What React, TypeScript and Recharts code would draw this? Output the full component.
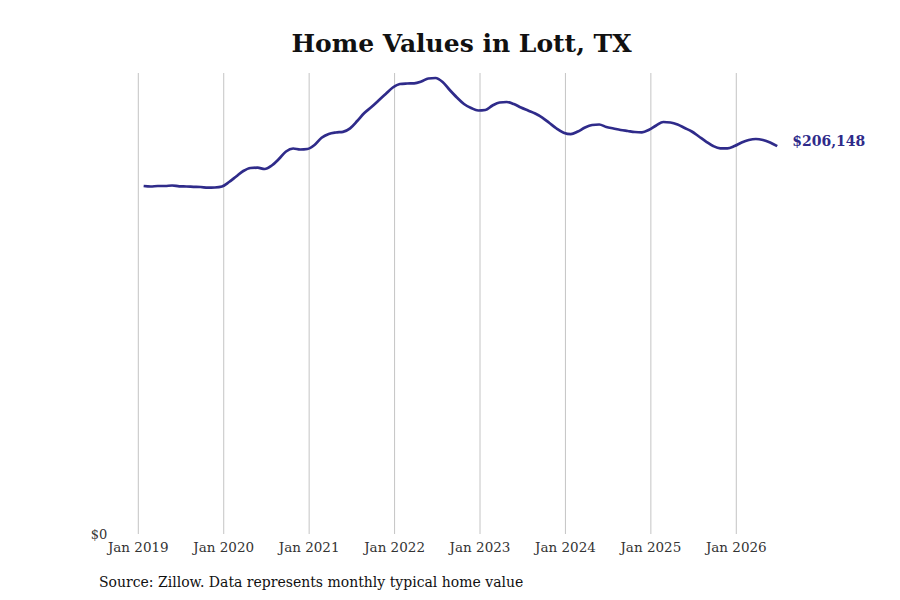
import React from "react";
import { LineChart, Line, XAxis, YAxis, CartesianGrid } from "recharts";

const years = [2019, 2020, 2021, 2022, 2023, 2024, 2025, 2026];
const tickLabels = years.map((y) => `Jan ${y}`);

const values2019 = [184945, 184679, 184945, 184945, 185210, 184785, 184679, 184520, 184413, 184041, 184147, 184679];
const values2020 = [187070, 189993, 192916, 194511, 194670, 193979, 195839, 199294, 203280, 204874, 204343, 204608];
const values2021 = [206734, 210560, 212580, 213377, 213749, 215609, 219489, 223740, 226929, 230384, 233838, 237293];
const values2022 = [239153, 239418, 239525, 240482, 242076, 242341, 240215, 235964, 231978, 228524, 226398, 225069];
const values2023 = [225335, 227728, 229323, 229587, 228524, 226664, 225069, 223475, 221349, 218426, 215503, 213271];
const values2024 = [212474, 213909, 216035, 217363, 217629, 216300, 215503, 214706, 214174, 213643, 213484, 214812];
const values2025 = [217097, 218957, 218692, 217629, 215769, 213909, 211251, 208594, 206203, 204980, 204980, 206203];
const values2026 = [208063, 209391, 209923, 209391, 208063, 206148];

const allValues = [
  ...values2019, ...values2020, ...values2021, ...values2022,
  ...values2023, ...values2024, ...values2025, ...values2026,
];

const data = allValues.map((v, i) => ({ t: i + 0.75, value: v }));
const xTicks = years.map((_, i) => i * 12);

const LINE_COLOR = "#2f2b8a";
const FONT = "'DejaVu Serif', serif";

const fmt = (v: number) => "$" + v.toLocaleString("en-US");

const EndLabel = (props: any) => {
  const { x, y, index } = props;
  if (index !== data.length - 1) return null;
  return (
    <text x={x + 15} y={y} fill={LINE_COLOR} fontFamily={FONT} fontWeight="bold" fontSize={14}>
      {fmt(allValues[allValues.length - 1])}
    </text>
  );
};

const gridX = (props: any) => {
  const xa = props && props.xAxis;
  if (xa && typeof xa.scale === "function") {
    return xTicks.map((t) => xa.scale(t));
  }
  const off = props.offset;
  return xTicks.map((t) => off.left + (t / 90) * off.width);
};

export default function App() {
  return (
    <div style={{ position: "absolute", left: 0, top: 0, width: 900, height: 600, background: "#fff" }}>
      <div
        style={{
          position: "absolute",
          left: 0,
          width: 923,
          top: 27,
          textAlign: "center",
          fontFamily: FONT,
          fontWeight: "bold",
          fontSize: 25,
          color: "#111",
          lineHeight: "34px",
        }}
      >
        Home Values in Lott, TX
      </div>
      <LineChart
        width={900}
        height={600}
        data={data}
        margin={{ top: 73, right: 121, bottom: 36, left: 78.3 }}
      >
        <CartesianGrid
          vertical={true}
          horizontal={false}
          stroke="#c4c4c4"
          strokeWidth={1}
          verticalCoordinatesGenerator={gridX}
        />
        <XAxis
          dataKey="t"
          type="number"
          domain={[0, 90]}
          ticks={xTicks}
          tickFormatter={(v: number) => tickLabels[Math.round(v / 12)]}
          axisLine={false}
          tickLine={false}
          tickSize={6}
          tickMargin={2}
          height={30}
          tick={{ fill: "#333", fontFamily: FONT, fontSize: 13.5 }}
          interval={0}
        />
        <YAxis
          type="number"
          domain={[0, 245000]}
          ticks={[0]}
          tickFormatter={() => "$0"}
          axisLine={false}
          tickLine={false}
          tickSize={6}
          tickMargin={25}
          width={60}
          tick={{ fill: "#333", fontFamily: FONT, fontSize: 13 }}
        />
        <Line
          type="monotone"
          dataKey="value"
          stroke={LINE_COLOR}
          strokeWidth={2.7}
          dot={false}
          isAnimationActive={false}
          label={<EndLabel />}
        />
      </LineChart>
      <div
        style={{
          position: "absolute",
          left: 99,
          top: 573,
          fontFamily: FONT,
          fontSize: 14,
          color: "#111",
          lineHeight: "18px",
          whiteSpace: "nowrap",
        }}
      >
        Source: Zillow. Data represents monthly typical home value
      </div>
    </div>
  );
}
